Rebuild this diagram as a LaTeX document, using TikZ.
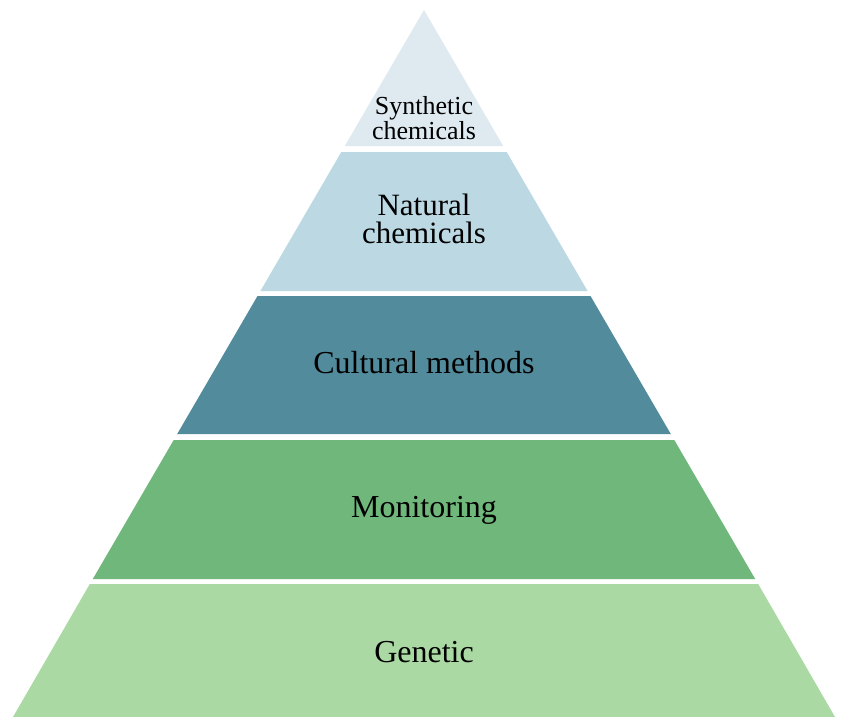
\documentclass[tikz,border=0pt]{standalone}
\usepackage{fontspec}
\setmainfont{Liberation Serif}
\definecolor{synthfill}{HTML}{DEE9F0}
\definecolor{naturalfill}{HTML}{BCD9E3}
\definecolor{culturalfill}{HTML}{528B9C}
\definecolor{monitorfill}{HTML}{70B77B}
\definecolor{geneticfill}{HTML}{AAD9A3}

\begin{document}
\begin{tikzpicture}[x=1pt, y=-1pt,
    tier/.style={draw=none},
    tiertext/.style={inner sep=0pt, align=center, text=black}]
    \useasboundingbox (0,0) rectangle (843,717);
    % Tiers
    \fill[synthfill]    (424,10) -- (503.2,146) -- (344.8,146) -- cycle;
    \fill[naturalfill]  (341.3,152) -- (506.7,152) -- (587.6,291) -- (260.4,291) -- cycle;
    \fill[culturalfill] (257.5,296) -- (590.5,296) -- (670.8,434) -- (177.2,434) -- cycle;
    \fill[monitorfill]  (173.7,440) -- (674.3,440) -- (755.2,579) -- (92.8,579) -- cycle;
    \fill[geneticfill]  (89.8,584) -- (758.2,584) -- (835,717) -- (13,717) -- cycle;

    % Labels
    \node[tiertext, font=\fontsize{26}{23}\selectfont] (synth) at (424,118) {Synthetic\\chemicals};
    \node[tiertext, font=\fontsize{31}{28}\selectfont] (natural) at (424,219) {Natural\\chemicals};
    \node[tiertext, font=\fontsize{32}{38}\selectfont, anchor=base] (cultural) at (424,373) {Cultural methods};
    \node[tiertext, font=\fontsize{32}{38}\selectfont, anchor=base] (monitor) at (424,517) {Monitoring};
    \node[tiertext, font=\fontsize{32}{38}\selectfont, anchor=base] (genetic) at (424,662) {Genetic};
\end{tikzpicture}
\end{document}
